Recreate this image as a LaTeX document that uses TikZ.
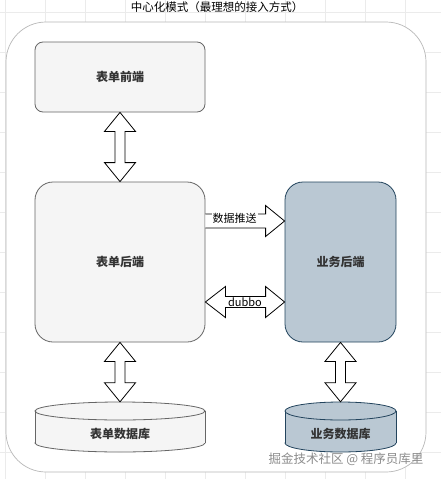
\documentclass[tikz,border=0pt]{standalone}
\usepackage{fontspec}
\setmainfont{Noto Sans CJK SC}
\usetikzlibrary{calc}
\definecolor{greyfill}{HTML}{F5F5F5}
\definecolor{greyline}{HTML}{666666}
\definecolor{bluefill}{HTML}{BAC8D3}
\definecolor{blueline}{HTML}{23445D}
\definecolor{gridc}{HTML}{EBEBEB}
\definecolor{outerc}{HTML}{B8B8B8}
\definecolor{txt}{HTML}{333333}
\tikzset{
  box/.style={draw=greyline, fill=greyfill, line width=0.8pt, text=txt, font=\fontsize{12}{14}\selectfont\bfseries},
  bizbox/.style={box, draw=blueline, fill=bluefill},
  dbshape/.style={minimum height=50, inner sep=0pt},
  dbtext/.style={inner sep=0pt, text=txt, font=\fontsize{12}{14}\selectfont\bfseries},
  blockarrow/.style={draw=black, fill=white, line width=0.8pt, line join=miter},
  lbl/.style={fill=white, inner sep=1pt, font=\fontsize{11}{13}\selectfont},
}
\newcommand{\vdarrow}[2]{%
  \draw[blockarrow] let \p1=(#1), \p2=(#2) in
    (\x1,\y1) -- (\x1+15.5pt,\y1-19pt) -- (\x1+5pt,\y1-19pt) -- (\x1+5pt,\y2+19pt)
    -- (\x1+15.5pt,\y2+19pt) -- (\x1,\y2) -- (\x1-15.5pt,\y2+19pt) -- (\x1-5pt,\y2+19pt)
    -- (\x1-5pt,\y1-19pt) -- (\x1-15.5pt,\y1-19pt) -- cycle;}
\newcommand{\cyl}[5]{% cx, top y, bottom y, half width, fill/draw style
  \begin{scope}[#5]
    \filldraw (#1,#3-9) ellipse [x radius=#4, y radius=9];
    \fill (#1-#4,#2+9) rectangle (#1+#4,#3-9);
    \draw (#1-#4,#2+9) -- (#1-#4,#3-9) (#1+#4,#2+9) -- (#1+#4,#3-9);
    \filldraw (#1,#2+9) ellipse [x radius=#4, y radius=9];
  \end{scope}}
\begin{document}
\begin{tikzpicture}[x=1pt, y=-1pt]
\useasboundingbox (0,0) rectangle (441,479);
\fill[white] (0,0) rectangle (441,479);
% grid
\foreach \gx in {5.7,45.7,...,441} \draw[gridc, line width=0.5pt] (\gx,0) -- (\gx,479);
\foreach \gy in {12.5,52.5,...,479} \draw[gridc, line width=0.5pt] (0,\gy) -- (441,\gy);
% outer container
\draw[outerc, fill=white, line width=0.7pt, rounded corners=40] (6,22) rectangle (426,472);
\node[font=\fontsize{11.5}{13}\selectfont] (title) at (217,7) {中心化模式（最理想的接入方式）};
% boxes
\node[box, rounded corners=8, minimum width=170, minimum height=70] (front) at (120,77) {表单前端};
\node[box, rounded corners=18, minimum width=170, minimum height=160] (back) at (120,262) {表单后端};
\node[bizbox, rounded corners=18, minimum width=111, minimum height=160] (biz) at (340.5,262) {业务后端};
% databases
\cyl{120}{402}{452}{85}{draw=greyline, fill=greyfill, line width=0.8pt}
\cyl{340.5}{402}{452}{55.5}{draw=blueline, fill=bluefill, line width=0.8pt}
\node[dbshape, minimum width=170] (db1) at (120,427) {};
\node[dbshape, minimum width=111] (db2) at (340.5,427) {};
\node[dbtext] (db1t) at ($(db1.center)+(0,7)$) {表单数据库};
\node[dbtext] (db2t) at ($(db2.center)+(0,7)$) {业务数据库};
% vertical double arrows
\vdarrow{front.south}{back.north}
\vdarrow{back.south}{db1.north}
\vdarrow{biz.south}{db2.north}
% push arrow (single)
\path (back.east) ++(0,-41) coordinate (pushA);
\coordinate (pushB) at (biz.west |- pushA);
\draw[blockarrow] let \p1=(pushA), \p2=(pushB) in
  (\x1,\y1+7pt) -- (\x2-19pt,\y1+7pt) -- (\x2-19pt,\y1+15.5pt) -- (\x2,\y1)
  -- (\x2-19pt,\y1-15.5pt) -- (\x2-19pt,\y1-7pt) -- (\x1,\y1-7pt);
\node[lbl] (pushlbl) at ($(pushA)!0.37!(pushB)+(0,-3)$) {数据推送};
% dubbo arrow (double)
\path (back.east) ++(0,40) coordinate (dubA);
\coordinate (dubB) at (biz.west |- dubA);
\draw[blockarrow] let \p1=(dubA), \p2=(dubB) in
  (\x1,\y1) -- (\x1+20pt,\y1+15.5pt) -- (\x1+20pt,\y1+5.5pt) -- (\x2-19pt,\y1+5.5pt)
  -- (\x2-19pt,\y1+15.5pt) -- (\x2,\y1) -- (\x2-19pt,\y1-15.5pt) -- (\x2-19pt,\y1-5.5pt)
  -- (\x1+20pt,\y1-5.5pt) -- (\x1+20pt,\y1-15.5pt) -- cycle;
\node[lbl] (dublbl) at ($(dubA)!0.5!(dubB)$) {dubbo};
% watermark
\node[anchor=east, text=black!45, font=\fontsize{12.5}{14}\selectfont] (wm) at (427,459) {掘金技术社区 @ 程序员库里};
\end{tikzpicture}
\end{document}
